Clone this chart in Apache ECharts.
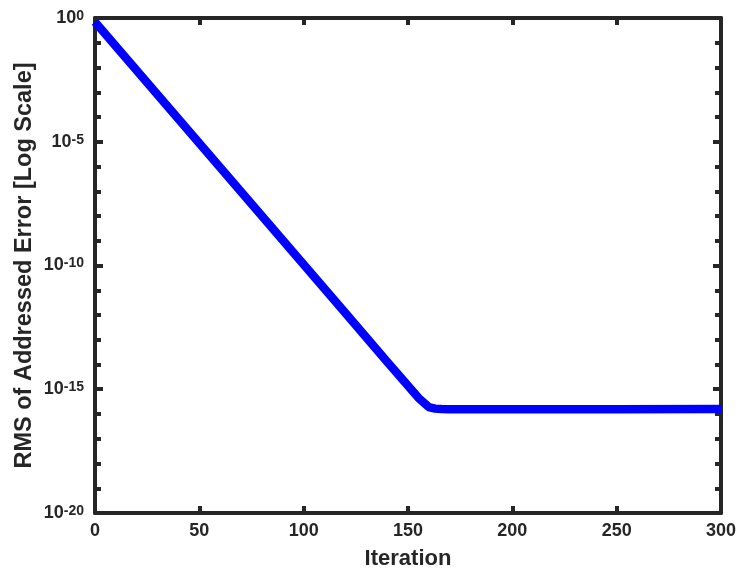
<!DOCTYPE html>
<html>
<head>
<meta charset="utf-8">
<title>RMS of Addressed Error</title>
<script src="https://cdn.jsdelivr.net/npm/echarts@6/dist/echarts.min.js"></script>
<style>
  html, body { margin: 0; padding: 0; background: #ffffff; }
  #chart { width: 739px; height: 576px; }
</style>
</head>
<body>
<div id="chart"></div>
<script>
// Convergence of the RMS addressed error over the iterations
const iterations = [0, 20, 40, 60, 80, 100, 120, 140, 155, 160, 163, 166, 170, 200, 250, 300];
const rmsError = [6.9e-1, 7.6e-3, 8.3e-5, 9.1e-7, 1.0e-8, 1.1e-10, 1.2e-12, 1.3e-14, 4.5e-16, 1.9e-16, 1.65e-16, 1.58e-16, 1.55e-16, 1.55e-16, 1.57e-16, 1.58e-16];

const xTicks = [0, 50, 100, 150, 200, 250, 300];
const yMin = 1e-20, yMax = 1;

const INK = '#262626';
const FONT = '"Liberation Sans", Arial, Helvetica, sans-serif';

const points = iterations.map((it, i) => [it, rmsError[i]]);

function powerLabel(v) {
  const e = Math.round(Math.log10(v));
  return '{b|10}{s|' + e + '}';
}

const chart = echarts.init(document.getElementById('chart'), null, { renderer: 'canvas' });

const frameLine = { show: true, onZero: false, lineStyle: { color: INK, width: 4 } };
const noLine = { show: false, onZero: false };

chart.setOption({
  animation: false,
  backgroundColor: '#ffffff',
  grid: { left: 95, right: 17, top: 18, bottom: 63, containLabel: false },
  xAxis: [
    {
      type: 'value', position: 'bottom', min: xTicks[0], max: xTicks[xTicks.length - 1], interval: 50,
      name: 'Iteration', nameLocation: 'middle', nameGap: 35,
      nameTextStyle: { fontFamily: FONT, fontWeight: 'bold', fontSize: 22, color: INK },
      axisLine: frameLine,
      axisTick: { show: true, inside: true, length: 7, lineStyle: { color: INK, width: 4 } },
      axisLabel: { margin: 9, fontFamily: FONT, fontWeight: 'bold', fontSize: 18, color: INK },
      splitLine: { show: false }
    },
    {
      type: 'value', position: 'top', min: xTicks[0], max: xTicks[xTicks.length - 1], interval: 50,
      axisLine: frameLine,
      axisTick: { show: true, inside: true, length: 7, lineStyle: { color: INK, width: 4 } },
      axisLabel: { show: false },
      splitLine: { show: false }
    }
  ],
  yAxis: [
    {
      type: 'log', logBase: 10, position: 'left', min: yMin, max: yMax, interval: 5,
      name: 'RMS of Addressed Error [Log Scale]', nameLocation: 'middle', nameGap: 58, nameRotate: 90,
      nameMoveOverlap: false,
      nameTextStyle: { fontFamily: FONT, fontWeight: 'bold', fontSize: 23.5, color: INK },
      axisLine: frameLine,
      axisTick: { show: true, inside: true, length: 8, lineStyle: { color: INK, width: 4 } },
      axisLabel: {
        margin: 11,
        formatter: powerLabel,
        rich: {
          b: { fontFamily: FONT, fontWeight: 'bold', fontSize: 18, lineHeight: 18, verticalAlign: 'bottom', color: INK },
          s: { fontFamily: FONT, fontWeight: 'bold', fontSize: 14, lineHeight: 14, verticalAlign: 'top', padding: [0, 0, 12, 0], color: INK }
        }
      },
      splitLine: { show: false }
    },
    {
      type: 'log', logBase: 10, position: 'left', min: yMin, max: yMax, interval: 1,
      axisLine: noLine,
      axisTick: { show: true, inside: true, length: 6, lineStyle: { color: INK, width: 4 } },
      axisLabel: { show: false },
      splitLine: { show: false }
    },
    {
      type: 'log', logBase: 10, position: 'right', min: yMin, max: yMax, interval: 5,
      axisLine: frameLine,
      axisTick: { show: true, inside: true, length: 8, lineStyle: { color: INK, width: 4 } },
      axisLabel: { show: false },
      splitLine: { show: false }
    },
    {
      type: 'log', logBase: 10, position: 'right', min: yMin, max: yMax, interval: 1,
      axisLine: noLine,
      axisTick: { show: true, inside: true, length: 6, lineStyle: { color: INK, width: 4 } },
      axisLabel: { show: false },
      splitLine: { show: false }
    }
  ],
  series: [
    {
      type: 'line',
      xAxisIndex: 0,
      yAxisIndex: 0,
      data: points,
      showSymbol: false,
      symbol: 'none',
      smooth: false,
      lineStyle: { color: '#0000ff', width: 8.5, join: 'round', cap: 'butt' },
      z: 1
    }
  ]
});
</script>
</body>
</html>
